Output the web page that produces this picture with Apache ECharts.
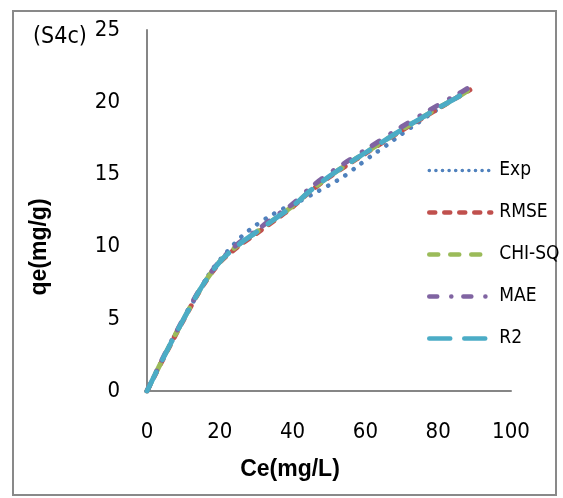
<!DOCTYPE html>
<html>
<head>
<meta charset="utf-8">
<script src="https://cdn.jsdelivr.net/npm/echarts@6/dist/echarts.min.js"></script>
<style>
html,body{margin:0;padding:0;background:#fff;}
#chart{width:563px;height:498px;}
</style>
</head>
<body>
<div id="chart"></div>
<script>
// Data
const xTicks = [0, 20, 40, 60, 80, 100];
const yTicks = [0, 5, 10, 15, 20, 25];

const expCe = [0, 5, 10, 15, 18, 22, 26, 30, 34, 38, 42, 46, 50, 54, 58, 62, 66, 70, 74, 78, 83, 88.7];
const expQe = [0, 2.55, 4.95, 7.2, 8.45, 9.65, 10.7, 11.5, 12.15, 12.7, 13.15, 13.7, 14.25, 14.85, 15.6, 16.35, 17.05, 17.8, 18.5, 19.2, 20.0, 20.9];

const fitCe = [0, 5, 10, 15, 20, 25, 30, 35, 40, 45, 50, 55, 60, 65, 70, 75, 80, 85, 88.7];
const rmseQe = [0, 2.5, 4.9, 7.15, 8.9, 10.0, 10.9, 11.8, 12.75, 13.85, 14.8, 15.65, 16.45, 17.25, 18.05, 18.8, 19.55, 20.3, 20.85];
const chiQe = [0, 2.55, 4.95, 7.2, 8.95, 10.1, 11.0, 11.9, 12.8, 13.9, 14.85, 15.7, 16.5, 17.3, 18.1, 18.85, 19.6, 20.3, 20.9];
const maeQe = [0, 2.6, 5.0, 7.25, 9.0, 10.2, 11.1, 12.05, 12.95, 14.1, 15.05, 15.9, 16.7, 17.5, 18.3, 19.05, 19.8, 20.5, 21.05];
const r2Qe = [0, 2.55, 4.95, 7.2, 8.95, 10.1, 11.0, 11.9, 12.8, 13.9, 14.85, 15.7, 16.5, 17.3, 18.1, 18.85, 19.6, 20.3, 20.9];

const seriesNames = ['Exp', 'RMSE', 'CHI-SQ', 'MAE', 'R2'];
const colors = ['#4F81BD', '#C0504D', '#9BBB59', '#8064A2', '#4BACC6'];

const pair = (xs, ys) => xs.map((x, i) => [x, ys[i]]);
const narrow = '"DejaVu Sans Condensed", "Liberation Sans", Arial, sans-serif';
const sans = '"Liberation Sans", Arial, sans-serif';

const dashes = {
  'Exp': { type: [0.1, 10], width: 4.5 },
  'RMSE': { type: [6, 9], width: 5 },
  'CHI-SQ': { type: [9, 12], width: 5 },
  'MAE': { type: [8, 14, 0.1, 12], width: 5 },
  'R2': { type: [21, 14], width: 5 }
};
const dataSets = [pair(expCe, expQe), pair(fitCe, rmseQe), pair(fitCe, chiQe), pair(fitCe, maeQe), pair(fitCe, r2Qe)];

const chart = echarts.init(document.getElementById('chart'), null, { renderer: 'canvas' });
chart.setOption({
  animation: false,
  backgroundColor: '#fff',
  graphic: [
    { type: 'rect', shape: { x: 13, y: 11, width: 543, height: 484 }, style: { fill: 'none', stroke: '#898989', lineWidth: 2 }, z: 0 },
    { type: 'text', left: 33, top: 26, style: { text: '(S4c)', font: '23px ' + narrow, fill: '#000' } },
    { type: 'text', x: 290, y: 470, style: { text: 'Ce(mg/L)', font: 'bold 23px ' + sans, fill: '#000', align: 'center', verticalAlign: 'middle' } },
    { type: 'text', x: 40, y: 247, rotation: Math.PI / 2, style: { text: 'qe(mg/g)', font: 'bold 23px ' + sans, fill: '#000', align: 'center', verticalAlign: 'middle' } }
  ],
  grid: { left: 147, right: 52, top: 30, bottom: 107, containLabel: false },
  legend: {
    orient: 'vertical',
    left: 427,
    top: 161,
    itemWidth: 62,
    itemHeight: 14,
    itemGap: 23,
    padding: 0,
    itemStyle: { opacity: 0 },
    textStyle: { fontSize: 19, fontFamily: narrow, color: '#000', padding: [0, 0, 0, 3] },
    data: seriesNames.map((n, i) => ({
      name: n,
      itemStyle: { opacity: 0 },
      lineStyle: n === 'Exp' ? { type: [0.1, 6.5], width: 3.5, cap: 'round', color: colors[i], opacity: 1 } : { type: dashes[n].type, width: 4.5, cap: 'round', color: colors[i], opacity: 1 }
    }))
  },
  xAxis: {
    type: 'value', min: xTicks[0], max: xTicks[xTicks.length - 1], interval: 20,
    axisLine: { show: true, lineStyle: { color: '#868686', width: 2 } },
    axisTick: { show: false },
    splitLine: { show: false },
    axisLabel: { fontSize: 22, fontFamily: narrow, color: '#000', margin: 30 }
  },
  yAxis: {
    type: 'value', min: yTicks[0], max: yTicks[yTicks.length - 1], interval: 5,
    axisLine: { show: true, lineStyle: { color: '#868686', width: 2 } },
    axisTick: { show: false },
    splitLine: { show: false },
    axisLabel: { fontSize: 22, fontFamily: narrow, color: '#000', margin: 27 }
  },
  series: seriesNames.map((n, i) => ({
    name: n,
    type: 'line',
    data: dataSets[i],
    symbol: 'none',
    showSymbol: false,
    smooth: 0.3,
    color: colors[i],
    lineStyle: { color: colors[i], width: dashes[n].width, type: dashes[n].type, cap: 'round' },
    z: 2 + i
  }))
});
</script>
</body>
</html>
